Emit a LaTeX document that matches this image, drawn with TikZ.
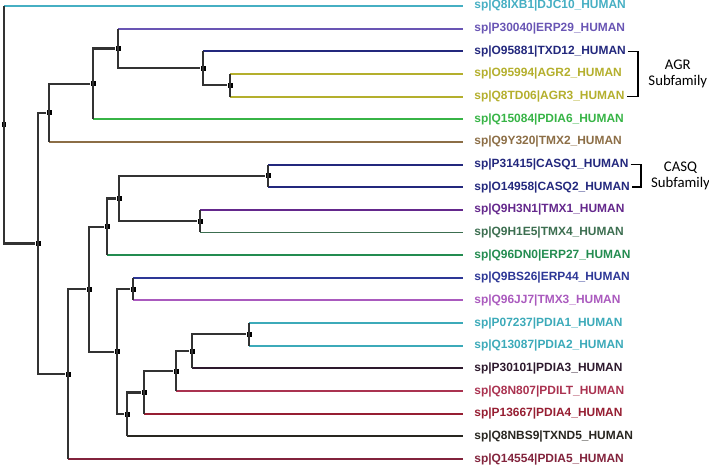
\documentclass[tikz,border=0pt]{standalone}
\usepackage{fontspec}
\setmainfont{Liberation Sans}
\newfontfamily\leaffont{Liberation Sans}
\newfontfamily\subfont{Carlito}
\usepackage{tikz}
\usetikzlibrary{positioning, calc}
\definecolor{treegray}{RGB}{50,50,50}
\definecolor{cdjc}{RGB}{70,175,195}
\definecolor{cerp}{RGB}{105,85,180}
\definecolor{cnavy}{RGB}{35,40,125}
\definecolor{colive}{RGB}{180,175,45}
\definecolor{cgreen}{RGB}{55,180,70}
\definecolor{cbrown}{RGB}{140,110,70}
\definecolor{cpurple}{RGB}{100,40,140}
\definecolor{cdkgreen}{RGB}{60,110,80}
\definecolor{cgreentwo}{RGB}{35,140,80}
\definecolor{cblue}{RGB}{45,55,150}
\definecolor{corchid}{RGB}{170,90,190}
\definecolor{cteal}{RGB}{60,170,185}
\definecolor{cdark}{RGB}{45,25,45}
\definecolor{ccrimson}{RGB}{170,50,80}
\definecolor{cdkred}{RGB}{150,30,50}
\definecolor{cblack}{RGB}{40,38,32}
\definecolor{cmaroon}{RGB}{130,35,60}
\tikzset{
  %% ---- tree ----
  stem/.style  = {line width=1.2pt, color=treegray},
  twig/.style  = {line width=1.1pt, color=#1, shorten >=0.22cm},
  fork/.style  = {rectangle, fill=black, inner sep=0pt, minimum size=0.1cm},
  leaf/.style  = {anchor=west, inner sep=0pt, text=#1,
                  font=\leaffont\bfseries\fontsize{6.8}{7.5}\selectfont},
  %% ---- brackets ----
  brk/.style   = {line width=0.9pt, color=black, shorten <=1pt, shorten >=1pt},
  subfam/.style= {align=center, inner sep=0pt,
                  font=\subfont\fontsize{8.4}{9.2}\selectfont},
}
\begin{document}
\begin{tikzpicture}[x=0.02cm, y=-0.02cm]
  \useasboundingbox (0,0) rectangle (709,465);

  %% leaves
  \node[leaf=cdjc]      (djc10) at (474,6)      {sp|Q8IXB1|DJC10\_HUMAN};
  \node[leaf=cerp]      (erp29) at (474,28.65)  {sp|P30040|ERP29\_HUMAN};
  \node[leaf=cnavy]     (txd12) at (474,51.3)   {sp|O95881|TXD12\_HUMAN};
  \node[leaf=colive]    (agr2)  at (474,73.95)  {sp|O95994|AGR2\_HUMAN};
  \node[leaf=colive]    (agr3)  at (474,96.6)   {sp|Q8TD06|AGR3\_HUMAN};
  \node[leaf=cgreen]    (pdia6) at (474,119.25) {sp|Q15084|PDIA6\_HUMAN};
  \node[leaf=cbrown]    (tmx2)  at (474,141.9)  {sp|Q9Y320|TMX2\_HUMAN};
  \node[leaf=cnavy]     (casq1) at (474,164.55) {sp|P31415|CASQ1\_HUMAN};
  \node[leaf=cnavy]     (casq2) at (474,187.2)  {sp|O14958|CASQ2\_HUMAN};
  \node[leaf=cpurple]   (tmx1)  at (474,209.85) {sp|Q9H3N1|TMX1\_HUMAN};
  \node[leaf=cdkgreen]  (tmx4)  at (474,232.5)  {sp|Q9H1E5|TMX4\_HUMAN};
  \node[leaf=cgreentwo] (erp27) at (474,255.15) {sp|Q96DN0|ERP27\_HUMAN};
  \node[leaf=cblue]     (erp44) at (474,277.8)  {sp|Q9BS26|ERP44\_HUMAN};
  \node[leaf=corchid]   (tmx3)  at (474,300.45) {sp|Q96JJ7|TMX3\_HUMAN};
  \node[leaf=cteal]     (pdia1) at (474,323.1)  {sp|P07237|PDIA1\_HUMAN};
  \node[leaf=cteal]     (pdia2) at (474,345.75) {sp|Q13087|PDIA2\_HUMAN};
  \node[leaf=cdark]     (pdia3) at (474,368.4)  {sp|P30101|PDIA3\_HUMAN};
  \node[leaf=ccrimson]  (pdilt) at (474,391.05) {sp|Q8N807|PDILT\_HUMAN};
  \node[leaf=cdkred]    (pdia4) at (474,413.7)  {sp|P13667|PDIA4\_HUMAN};
  \node[leaf=cblack]    (txnd5) at (474,436.35) {sp|Q8NBS9|TXND5\_HUMAN};
  \node[leaf=cmaroon]   (pdia5) at (474,459)    {sp|Q14554|PDIA5\_HUMAN};

  %% internal nodes
  \node[fork] (root) at (4,124.8)   {};
  \node[fork] (nA)   at (38,243.5)  {};
  \node[fork] (nB)   at (49,112.9)  {};
  \node[fork] (nC)   at (93,83.9)   {};
  \node[fork] (nD)   at (118,48.5)  {};
  \node[fork] (nE)   at (203,68.3)  {};
  \node[fork] (nF)   at (230,85.3)  {};
  \node[fork] (nG)   at (68,374.2)  {};
  \node[fork] (nH)   at (89,289.3)  {};
  \node[fork] (nI)   at (107,226.8) {};
  \node[fork] (nJ)   at (119,198.5) {};
  \node[fork] (nK)   at (268,175.9) {};
  \node[fork] (nL)   at (200,221.2) {};
  \node[fork] (nM)   at (117,351.8) {};
  \node[fork] (nN)   at (133,289.1) {};
  \node[fork] (nO)   at (127,414.4) {};
  \node[fork] (nP)   at (144,392.5) {};
  \node[fork] (nQ)   at (176,371.2) {};
  \node[fork] (nR)   at (192,351.4) {};
  \node[fork] (nS)   at (249,334.4) {};

  %% coloured leaf branches
  \draw[twig=cdjc]      (djc10 -| root) -- (djc10);
  \draw[twig=cerp]      (erp29 -| nD) -- (erp29);
  \draw[twig=cnavy]     (txd12 -| nE) -- (txd12);
  \draw[twig=colive]    (agr2 -| nF) -- (agr2);
  \draw[twig=colive]    (agr3 -| nF) -- (agr3);
  \draw[twig=cgreen]    (pdia6 -| nC) -- (pdia6);
  \draw[twig=cbrown]    (tmx2 -| nB) -- (tmx2);
  \draw[twig=cnavy]     (casq1 -| nK) -- (casq1);
  \draw[twig=cnavy]     (casq2 -| nK) -- (casq2);
  \draw[twig=cpurple]   (tmx1 -| nL) -- (tmx1);
  \draw[twig=cdkgreen]  (tmx4 -| nL) -- (tmx4);
  \draw[twig=cgreentwo] (erp27 -| nI) -- (erp27);
  \draw[twig=cblue]     (erp44 -| nN) -- (erp44);
  \draw[twig=corchid]   (tmx3 -| nN) -- (tmx3);
  \draw[twig=cteal]     (pdia1 -| nS) -- (pdia1);
  \draw[twig=cteal]     (pdia2 -| nS) -- (pdia2);
  \draw[twig=cdark]     (pdia3 -| nR) -- (pdia3);
  \draw[twig=ccrimson]  (pdilt -| nQ) -- (pdilt);
  \draw[twig=cdkred]    (pdia4 -| nP) -- (pdia4);
  \draw[twig=cblack]    (txnd5 -| nO) -- (txnd5);
  \draw[twig=cmaroon]   (pdia5 -| nG) -- (pdia5);

  %% inner branches
  \draw[stem] (djc10 -| root) -- (nA -| root) -- (nA);
  \draw[stem] (nB) -| (nG -| nA) -- (nG);
  \draw[stem] (nC) -| (tmx2 -| nB);
  \draw[stem] (nD) -| (pdia6 -| nC);
  \draw[stem] (erp29 -| nD) -- (nE -| nD) -- (nE);
  \draw[stem] (txd12 -| nE) -- (nF -| nE) -- (nF);
  \draw[stem] (agr2 -| nF) -- (agr3 -| nF);
  \draw[stem] (nH) -| (pdia5 -| nG);
  \draw[stem] (nI) -| (nM -| nH) -- (nM);
  \draw[stem] (nJ) -| (erp27 -| nI);
  \draw[stem] (nK) -| (nL -| nJ) -- (nL);
  \draw[stem] (casq1 -| nK) -- (casq2 -| nK);
  \draw[stem] (tmx1 -| nL) -- (tmx4 -| nL);
  \draw[stem] (nN) -| (nO -| nM) -- (nO);
  \draw[stem] (erp44 -| nN) -- (tmx3 -| nN);
  \draw[stem] (nP) -| (txnd5 -| nO);
  \draw[stem] (nQ) -| (pdia4 -| nP);
  \draw[stem] (nR) -| (pdilt -| nQ);
  \draw[stem] (nS) -| (pdia3 -| nR);
  \draw[stem] (pdia1 -| nS) -- (pdia2 -| nS);

  %% subfamily brackets
  \draw[brk] (txd12.east) -- ++(12,0) coordinate (agrtop) |- (agr3.east);
  \coordinate (agrmid) at ($(agrtop)!0.5!(agrtop |- agr3.east)$);
  \node[subfam, right=0.2cm of agrmid] (agrlbl) {AGR\\Subfamily};

  \draw[brk] (casq1.east) -- ++(12,0) coordinate (casqtop) |- (casq2.east);
  \coordinate (casqmid) at ($(casqtop)!0.5!(casqtop |- casq2.east)$);
  \node[subfam, right=0.2cm of casqmid] (casqlbl) {CASQ\\Subfamily};

\end{tikzpicture}
\end{document}
